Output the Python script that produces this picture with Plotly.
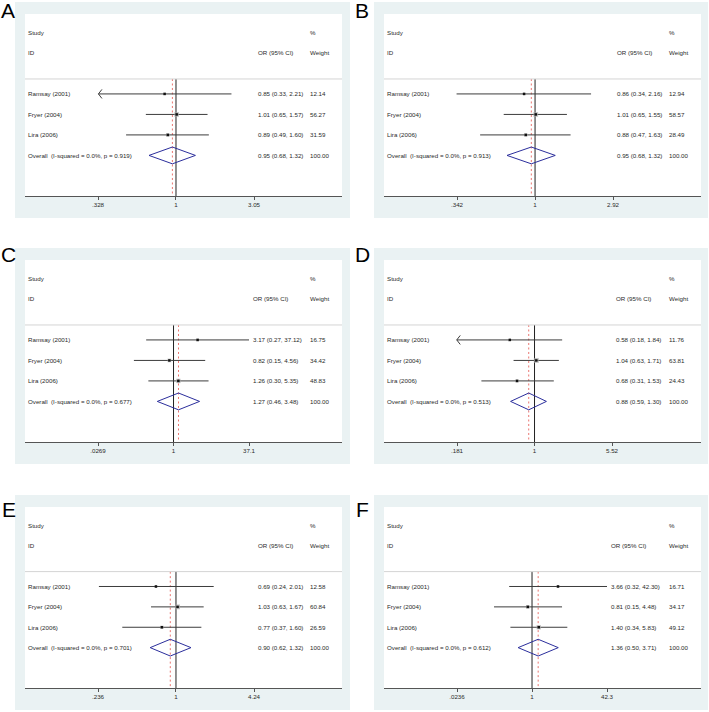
import math
import plotly.graph_objects as go

studies = ["Ramsay (2001)", "Fryer (2004)", "Lira (2006)"]
panel_names = ["A", "B", "C", "D", "E", "F"]

# ---- Panel A
or_A = [0.85, 1.01, 0.89]
lci_A = [0.33, 0.65, 0.49]
uci_A = [2.21, 1.57, 1.60]
wt_A = [12.14, 56.27, 31.59]
pooled_A = [0.95, 0.68, 1.32]
het_A = ["0.0%", "0.919"]
tickv_A = [0.328, 1, 3.05]
tickt_A = [".328", "1", "3.05"]

# ---- Panel B
or_B = [0.86, 1.01, 0.88]
lci_B = [0.34, 0.65, 0.47]
uci_B = [2.16, 1.55, 1.63]
wt_B = [12.94, 58.57, 28.49]
pooled_B = [0.95, 0.68, 1.32]
het_B = ["0.0%", "0.913"]
tickv_B = [0.342, 1, 2.92]
tickt_B = [".342", "1", "2.92"]

# ---- Panel C
or_C = [3.17, 0.82, 1.26]
lci_C = [0.27, 0.15, 0.30]
uci_C = [37.12, 4.56, 5.35]
wt_C = [16.75, 34.42, 48.83]
pooled_C = [1.27, 0.46, 3.48]
het_C = ["0.0%", "0.677"]
tickv_C = [0.0269, 1, 37.1]
tickt_C = [".0269", "1", "37.1"]

# ---- Panel D
or_D = [0.58, 1.04, 0.68]
lci_D = [0.18, 0.63, 0.31]
uci_D = [1.84, 1.71, 1.53]
wt_D = [11.76, 63.81, 24.43]
pooled_D = [0.88, 0.59, 1.30]
het_D = ["0.0%", "0.513"]
tickv_D = [0.181, 1, 5.52]
tickt_D = [".181", "1", "5.52"]

# ---- Panel E
or_E = [0.69, 1.03, 0.77]
lci_E = [0.24, 0.63, 0.37]
uci_E = [2.01, 1.67, 1.60]
wt_E = [12.58, 60.84, 26.59]
pooled_E = [0.90, 0.62, 1.32]
het_E = ["0.0%", "0.701"]
tickv_E = [0.236, 1, 4.24]
tickt_E = [".236", "1", "4.24"]

# ---- Panel F
or_F = [3.66, 0.81, 1.40]
lci_F = [0.32, 0.15, 0.34]
uci_F = [42.30, 4.48, 5.83]
wt_F = [16.71, 34.17, 49.12]
pooled_F = [1.36, 0.50, 3.71]
het_F = ["0.0%", "0.612"]
tickv_F = [0.0236, 1, 42.3]
tickt_F = [".0236", "1", "42.3"]

pooled_weight = 100.00

# panels whose first study CI is truncated on the left (drawn with an arrow)
arrow_panels = ["A", "D"]

panels = [
    dict(name="A", est=or_A, lo=lci_A, hi=uci_A, wt=wt_A, pooled=pooled_A, het=het_A, tv=tickv_A, tt=tickt_A),
    dict(name="B", est=or_B, lo=lci_B, hi=uci_B, wt=wt_B, pooled=pooled_B, het=het_B, tv=tickv_B, tt=tickt_B),
    dict(name="C", est=or_C, lo=lci_C, hi=uci_C, wt=wt_C, pooled=pooled_C, het=het_C, tv=tickv_C, tt=tickt_C),
    dict(name="D", est=or_D, lo=lci_D, hi=uci_D, wt=wt_D, pooled=pooled_D, het=het_D, tv=tickv_D, tt=tickt_D),
    dict(name="E", est=or_E, lo=lci_E, hi=uci_E, wt=wt_E, pooled=pooled_E, het=het_E, tv=tickv_E, tt=tickt_E),
    dict(name="F", est=or_F, lo=lci_F, hi=uci_F, wt=wt_F, pooled=pooled_F, het=het_F, tv=tickv_F, tt=tickt_F),
]

# ---------------- layout (pixels) ----------------
FW, FH = 709, 712
col_white = [(25, 342), (384, 701)]
col_frame = [(15, 350), (374, 708)]
row_white = [(14, 196), (260, 442), (507, 688)]
ci_col_off = {"A": 233, "B": 233, "C": 228, "D": 232, "E": 233, "F": 227}
label_pos = {"A": (1, -1), "B": (355, -1), "C": (1, 243), "D": (355, 243), "E": (2, 498), "F": (356, 498)}
study_off = 3
wt_off = 285
left_tick_px = 73

Y_TOP, Y_BOT = -3.9, 4.98
SEP_Y = -0.73
FONT = "Liberation Sans, Arial, sans-serif"
TXT = "#2a2a2a"
FS = 6.2

fig = go.Figure()
shapes = []
annots = []
layout_axes = {}

for k, p in enumerate(panels):
    n = k + 1
    col = k % 2
    row = k // 2
    x0, x1 = col_white[col]
    fx0, fx1 = col_frame[col]
    yt, yb = row_white[row]
    W = x1 - x0
    xa = "x" if n == 1 else f"x{n}"
    ya = "y" if n == 1 else f"y{n}"
    xname = "xaxis" if n == 1 else f"xaxis{n}"
    yname = "yaxis" if n == 1 else f"yaxis{n}"

    # frame + white plot region
    shapes.append(dict(type="rect", xref="paper", yref="paper",
                       x0=fx0 / FW, x1=fx1 / FW, y0=1 - (yb + 22) / FH, y1=1 - (yt - 12) / FH,
                       fillcolor="#eaf2f3", line=dict(width=0), layer="below"))
    shapes.append(dict(type="rect", xref="paper", yref="paper",
                       x0=x0 / FW, x1=x1 / FW, y0=1 - yb / FH, y1=1 - yt / FH,
                       fillcolor="white", line=dict(width=0), layer="below"))

    ci_off = ci_col_off[p["name"]]
    hi_px = ci_off - 4
    a = math.log10(min(p["tv"]))
    b = math.log10(max(p["tv"]))
    s = (b - a) / (hi_px - left_tick_px)
    rng = [a - left_tick_px * s, a + (W - left_tick_px) * s]

    layout_axes[xname] = dict(domain=[x0 / FW, x1 / FW], anchor=ya, type="log", range=rng,
                              tickvals=p["tv"], ticktext=p["tt"], showline=True, linecolor="#555555",
                              linewidth=1, ticks="outside", ticklen=3, tickcolor="#555555", tickwidth=1,
                              showgrid=False, zeroline=False, fixedrange=True,
                              tickfont=dict(family=FONT, size=FS, color=TXT))
    layout_axes[yname] = dict(domain=[1 - yb / FH, 1 - yt / FH], anchor=xa, range=[Y_BOT, Y_TOP],
                              visible=False, showgrid=False, zeroline=False, fixedrange=True)

    # separator line
    shapes.append(dict(type="line", xref=f"{xa} domain", yref=ya, x0=0, x1=1, y0=SEP_Y, y1=SEP_Y,
                       line=dict(color="#d4d4d4", width=1)))

    ys = list(range(len(studies)))
    ov_y = len(studies)

    # null line
    fig.add_trace(go.Scatter(x=[1, 1], y=[SEP_Y, Y_BOT], mode="lines", xaxis=xa, yaxis=ya,
                             line=dict(color="#222222", width=1), hoverinfo="skip"))
    # pooled estimate dashed line
    fig.add_trace(go.Scatter(x=[p["pooled"][0]] * 2, y=[SEP_Y, Y_BOT], mode="lines", xaxis=xa, yaxis=ya,
                             line=dict(color="#e5504a", width=0.8, dash="2px,2.5px"), hoverinfo="skip"))
    # CI lines
    cx, cy = [], []
    for i in ys:
        cx += [p["lo"][i], p["hi"][i], None]
        cy += [i, i, None]
    fig.add_trace(go.Scatter(x=cx, y=cy, mode="lines", xaxis=xa, yaxis=ya,
                             line=dict(color="#3c3c3c", width=1), hoverinfo="skip"))
    # arrow for truncated CI
    if p["name"] in arrow_panels:
        tip = p["lo"][0]
        dx = 10 ** (math.log10(tip) + 3.5 * s)
        fig.add_trace(go.Scatter(x=[dx, tip, dx], y=[-0.22, 0, 0.22], mode="lines", xaxis=xa, yaxis=ya,
                                 line=dict(color="#3c3c3c", width=1), hoverinfo="skip"))
    # weight boxes
    fig.add_trace(go.Scatter(x=p["est"], y=ys, mode="markers", xaxis=xa, yaxis=ya,
                             marker=dict(symbol="square", color="#a9a9a9",
                                         size=[0.62 * math.sqrt(w) for w in p["wt"]], line=dict(width=0)),
                             hoverinfo="skip"))
    # point estimates
    fig.add_trace(go.Scatter(x=p["est"], y=ys, mode="markers", xaxis=xa, yaxis=ya,
                             marker=dict(symbol="square", color="#111111", size=2.5, line=dict(width=0)),
                             hoverinfo="skip"))
    # pooled diamond
    est, lo, hi = p["pooled"]
    fig.add_trace(go.Scatter(x=[lo, est, hi, est, lo], y=[ov_y, ov_y - 0.41, ov_y, ov_y + 0.41, ov_y],
                             mode="lines", xaxis=xa, yaxis=ya,
                             line=dict(color="#2b2e9c", width=1), hoverinfo="skip"))

    def txt(xpx, yv, t):
        annots.append(dict(xref=f"{xa} domain", yref=ya, x=xpx / W, y=yv, text=t, showarrow=False,
                           xanchor="left", yanchor="middle", borderpad=0, borderwidth=0,
                           font=dict(family=FONT, size=FS, color=TXT)))

    txt(study_off, -3, "Study")
    txt(study_off, -2, "ID")
    txt(ci_off, -2, "OR (95% CI)")
    txt(wt_off, -3, "%")
    txt(wt_off, -2, "Weight")
    for i in ys:
        txt(study_off, i, studies[i])
        txt(ci_off, i, f"{p['est'][i]:.2f} ({p['lo'][i]:.2f}, {p['hi'][i]:.2f})")
        txt(wt_off, i, f"{p['wt'][i]:.2f}")
    txt(study_off, ov_y, f"Overall\u00a0 (I-squared = {p['het'][0]}, p = {p['het'][1]})")
    txt(ci_off, ov_y, f"{est:.2f} ({lo:.2f}, {hi:.2f})")
    txt(wt_off, ov_y, f"{pooled_weight:.2f}")

    lx, ly = label_pos[p["name"]]
    annots.append(dict(xref="paper", yref="paper", x=lx / FW, y=1 - ly / FH, text=p["name"],
                       showarrow=False, xanchor="left", yanchor="top", borderpad=0, borderwidth=0,
                       font=dict(family=FONT, size=21, color="#000000")))

fig.update_layout(width=FW, height=FH, margin=dict(l=0, r=0, t=0, b=0),
                  paper_bgcolor="white", plot_bgcolor="rgba(0,0,0,0)", showlegend=False,
                  shapes=shapes, annotations=annots, **layout_axes)

fig.write_html("out.html")
